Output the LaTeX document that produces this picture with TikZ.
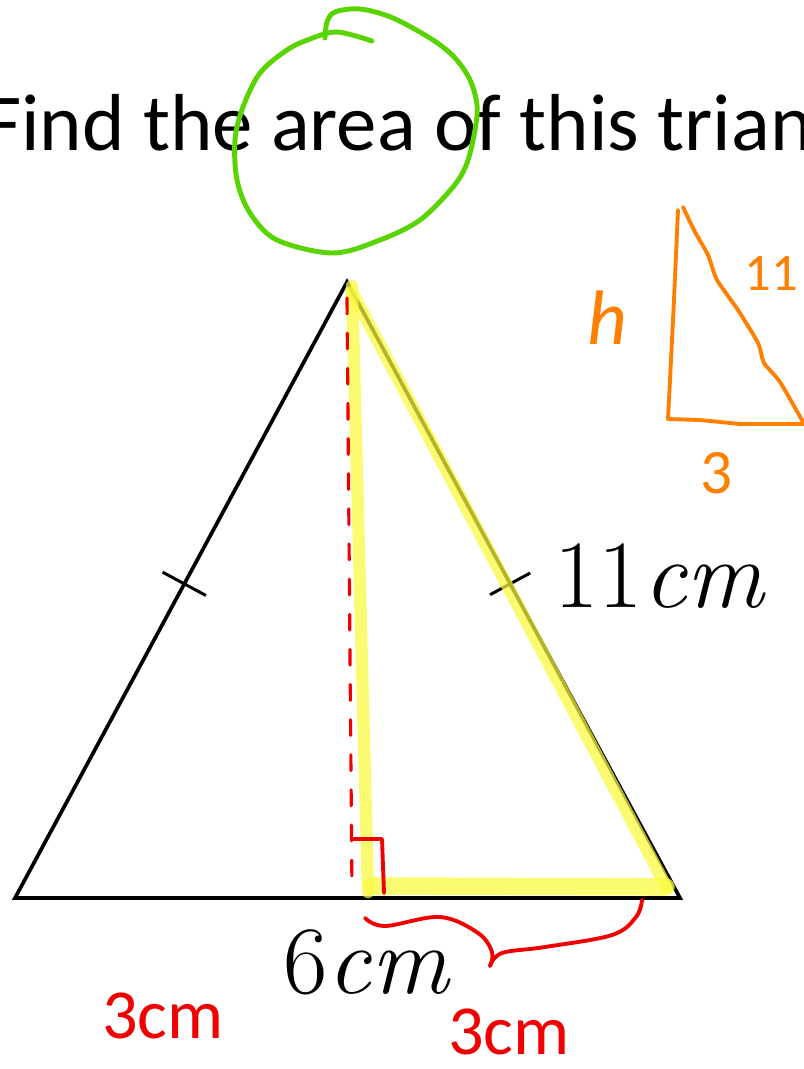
\documentclass[tikz,border=0pt]{standalone}
\usepackage{fontspec}
\newfontfamily\slidefont{Carlito}
\usetikzlibrary{calc}
\definecolor{hlyellow}{RGB}{250,250,60}
\definecolor{penred}{RGB}{240,0,0}
\definecolor{penorange}{RGB}{255,128,0}
\definecolor{pengreen}{RGB}{90,212,0}

\begin{document}
\begin{tikzpicture}[x=0.02cm, y=-0.02cm,
  side/.style={draw=black, line width=2.1pt, line join=miter},
  tick/.style={draw=black, line width=1.7pt},
  hl/.style={draw=hlyellow, line width=7pt, opacity=0.72, line cap=round},
  pen/.style={line width=2.2pt, line cap=round, line join=round},
  hand/.style={font=\slidefont\fontsize{40}{44}\selectfont},
  measure/.style={font=\fontsize{55}{62}\selectfont},
]
  \useasboundingbox (0,0) rectangle (804,1069);
  \clip (0,0) rectangle (804,1069);

  % question
  \node[anchor=base west, inner sep=0pt, font=\slidefont\fontsize{46}{52}\selectfont]
    (title) at (-16,150) {Find the area of this triangle};

  % the triangle
  \coordinate (apex) at (347,282);
  \coordinate (left) at (15,898);
  \coordinate (right) at (680,898);
  \coordinate (foot) at (350,898);
  \draw[side] (left) -- (apex) -- (right) -- cycle;

  % equal sides
  \coordinate (mAB) at ($(apex)!0.49!(left)$);
  \coordinate (mAC) at ($(apex)!0.49!(right)$);
  \draw[tick] ($(mAB)!14pt!90:(left)$) -- ($(mAB)!14pt!-90:(left)$);
  \draw[tick] ($(mAC)!13pt!90:(right)$) -- ($(mAC)!13pt!-90:(right)$);

  \node[measure, anchor=base west, inner sep=0pt] (side) at (554,607) {11\textit{cm}};
  \node[measure, anchor=base, inner sep=0pt] (base) at (367,993) {6\textit{cm}};

  % highlighter
  \draw[hl] (352,286) -- (368,892);
  \draw[hl] (352,292) -- (667,888);
  \draw[hl, line width=10pt] (372,886) -- (666,887);

  % height, right angle and half base
  \draw[pen, draw=penred, line width=1.8pt, dash pattern=on 9pt off 11pt]
    (347,298) -- (352,893);
  \draw[pen, draw=penred] (352,839) -- (382,839) -- (384,893);
  \draw[pen, draw=penred] plot[smooth, tension=0.6]
    coordinates {(365,918) (385,926) (440,917) (478,933) (492,952) (490,966)};
  \draw[pen, draw=penred] plot[smooth, tension=0.6]
    coordinates {(490,966) (502,953) (545,947) (612,935) (636,917) (642,900)};
  \node[hand, text=penred, anchor=base, inner sep=0pt] (halfL) at (163,1038) {3cm};
  \node[hand, text=penred, anchor=base, inner sep=0pt] (halfR) at (509,1054) {3cm};

  % circled word
  \draw[pen, draw=pengreen, line width=2.8pt] plot[smooth, tension=0.55] coordinates {
    (372,41) (337,32) (310,39) (287,50) (260,73) (243,107) (235,140) (237,180)
    (250,213) (277,240) (333,253) (380,240) (420,220) (453,187) (467,163)
    (475,130) (477,105) (470,80) (455,58) (433,40) (393,18) (360,9) (335,12)
    (327,22) (325,38)};

  % side sketch
  \draw[pen, draw=penorange] (678,210) -- (674,300) -- (670,380) -- (668,419)
    -- (700,420) -- (740,424) -- (804,424);
  \draw[pen, draw=penorange] plot[smooth, tension=0.4] coordinates {
    (683,207) (695,232) (708,255) (717,280) (738,310) (758,343) (764,363)
    (780,382) (803,422)};
  \node[hand, text=penorange, font=\slidefont\itshape\fontsize{44}{48}\selectfont,
    inner sep=0pt] (hgt) at (607,318) {h};
  \node[hand, text=penorange, font=\slidefont\fontsize{30}{34}\selectfont,
    inner sep=0pt] (hyp) at (771,274) {11};
  \node[hand, text=penorange, font=\slidefont\fontsize{36}{40}\selectfont,
    inner sep=0pt] (leg) at (717,473) {3};
\end{tikzpicture}
\end{document}
